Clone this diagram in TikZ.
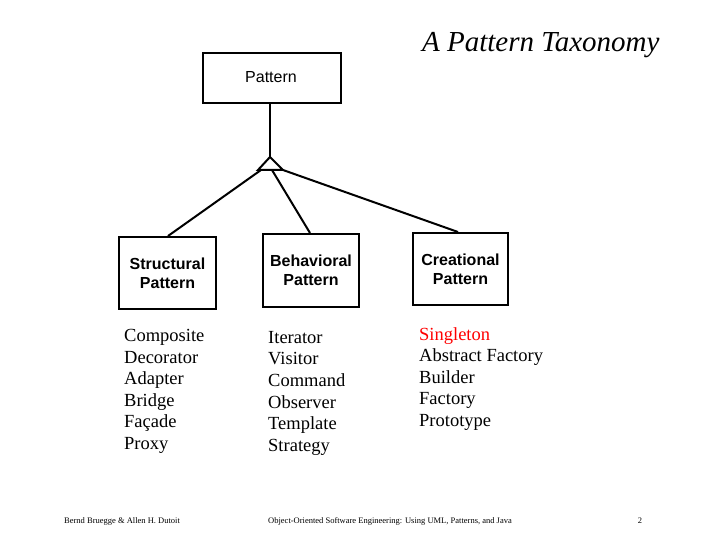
\documentclass[tikz,border=0pt]{standalone}
\usepackage{fontspec}
\setmainfont{Liberation Serif}
\setsansfont{Liberation Sans}
\begin{document}
\begin{tikzpicture}[x=1pt,y=-1pt,
  cls/.style={draw, line width=2pt, inner sep=0pt, font=\sffamily\bfseries\fontsize{16}{19}\selectfont, align=center},
  lst/.style={anchor=north west, align=left, font=\fontsize{18.5}{21.6}\selectfont, inner sep=0pt},
  foot/.style={font=\fontsize{8.5}{9}\selectfont, inner sep=0pt}]
\useasboundingbox (0,0) rectangle (720,540);

% Title
\node[anchor=east, font=\itshape\fontsize{29}{32}\selectfont] (title) at (663,45) {A Pattern Taxonomy};

% Classes
\node[cls, minimum width=138pt, minimum height=50pt, anchor=north west] (pattern) at (202,52) {};
\node[font=\sffamily\fontsize{16}{18}\selectfont, anchor=north] (plbl) at (271,68) {Pattern};
\node[cls, minimum width=97pt, minimum height=72pt, anchor=north west] (structural) at (118,236) {Structural\\Pattern};
\node[cls, minimum width=96pt, minimum height=73pt, anchor=north west] (behavioral) at (262,233) {Behavioral\\Pattern};
\node[cls, minimum width=95pt, minimum height=72pt, anchor=north west] (creational) at (412,232) {Creational\\Pattern};

% Generalization triangle
\coordinate (apex) at (270,157);
\coordinate (bl) at (258,170);
\coordinate (br) at (283,170);
\draw[line width=2pt] (pattern.south -| apex) -- (apex);
\draw[line width=2pt, fill=white] (apex) -- (bl) -- (br) -- cycle;
\draw[line width=2pt] (261,170) -- (structural.north -| 168,0);
\draw[line width=2pt] (272,170) -- (behavioral.north -| 310,0);
\draw[line width=2pt] (283,170) -- (creational.north -| 458,0);

% Pattern lists
\node[lst] (slist) at (124,329) {Composite\\Decorator\\Adapter\\Bridge\\Façade\\Proxy};
\node[lst] (blist) at (268,331) {Iterator\\Visitor\\Command\\Observer\\Template\\Strategy};
\node[lst] (clist) at (419,327) {\textcolor{red}{Singleton}\\Abstract Factory\\Builder\\Factory\\Prototype};

% Footer
\node[foot, anchor=west] (fauth) at (64,521) {Bernd Bruegge \& Allen H. Dutoit};
\node[foot, anchor=west] (fbook) at (268,521) {Object-Oriented Software Engineering: Using UML, Patterns, and Java};
\node[foot] (fpage) at (640,521) {2};
\end{tikzpicture}
\end{document}
